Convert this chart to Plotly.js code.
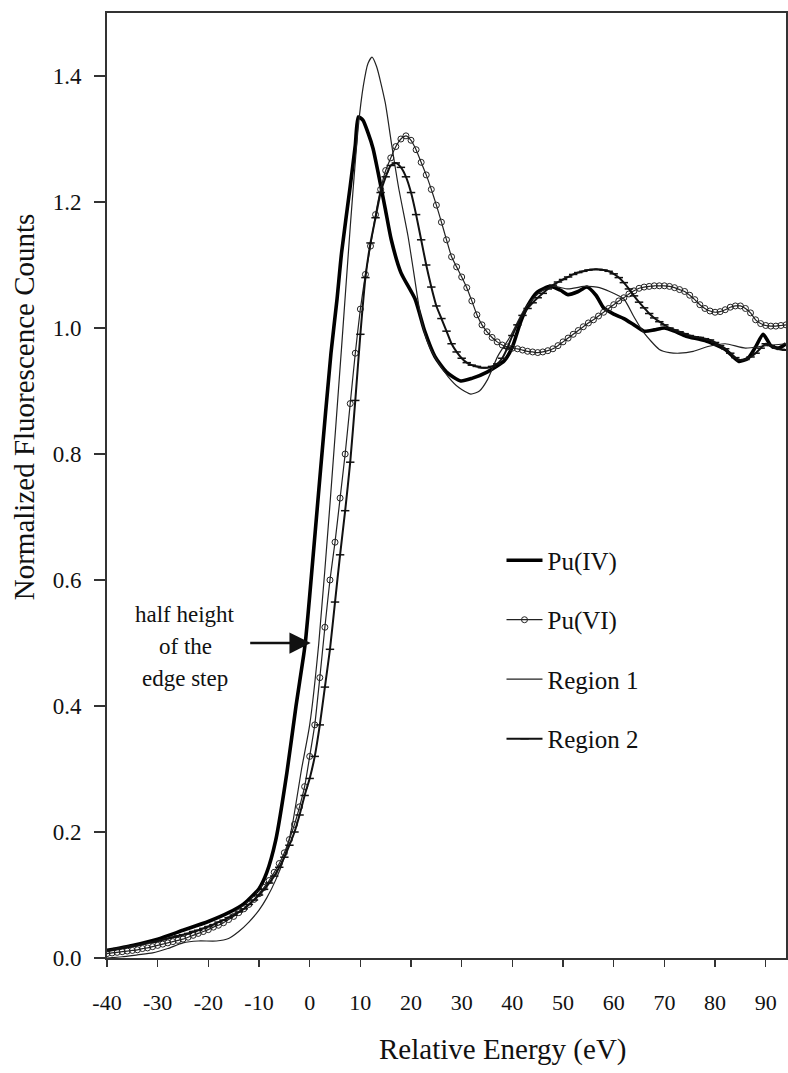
<!DOCTYPE html>
<html>
<head>
<meta charset="utf-8">
<script src="https://cdn.plot.ly/plotly-3.0.1.min.js"></script>
<style>html,body{margin:0;padding:0;background:#fff;}#chart{width:788px;height:1073px;}</style>
</head>
<body>
<div id="chart"></div>
<script>
// ---- data ----
const puIV_x = [-40,-35,-30,-25,-20,-16,-13,-10,-8.5,-6.7,-4.5,-2.7,-1.2,-0.8,0,2.2,4.2,5.4,6.3,8,9,9.6,10.5,11.5,12.5,13.5,14.9,16.1,18,20.8,22.7,24.7,27,29.8,32,35,38.4,40,41.6,43,44.9,47.5,49.5,51,53,54.7,56.5,58,60,62,64,66,68,70,72,74.3,78,82,84.7,86.5,88,89.5,91,92.5,94];
const puIV_y = [0.012,0.02,0.03,0.044,0.058,0.072,0.086,0.11,0.135,0.187,0.294,0.40,0.48,0.505,0.575,0.78,0.96,1.046,1.12,1.225,1.29,1.335,1.33,1.31,1.285,1.247,1.19,1.14,1.088,1.046,0.995,0.955,0.93,0.916,0.92,0.93,0.948,0.97,1.009,1.035,1.057,1.066,1.06,1.053,1.058,1.065,1.052,1.032,1.022,1.015,1.005,0.995,0.997,1.0,0.995,0.987,0.98,0.966,0.947,0.952,0.97,0.99,0.972,0.968,0.975];

const puVI_x = [];
for (let e = -40; e <= 94; e++) puVI_x.push(e);
const puVI_y = [0.007,0.008,0.009,0.010,0.011,0.012,0.013,0.015,0.016,0.018,
  0.020,0.022,0.024,0.026,0.028,0.030,0.033,0.036,0.039,0.042,
  0.045,0.049,0.052,0.056,0.061,0.066,0.072,0.078,0.085,0.093,
  0.102,0.112,0.123,0.136,0.150,0.167,0.188,0.212,0.240,0.272,
  0.32,0.37,0.445,0.525,0.60,0.66,0.73,0.80,0.88,0.96,
  1.03,1.085,1.13,1.18,1.22,1.25,1.27,1.288,1.30,1.305,
  1.298,1.283,1.263,1.243,1.22,1.195,1.168,1.14,1.113,1.097,
  1.081,1.064,1.043,1.021,1.005,0.994,0.985,0.978,0.973,0.970,
  0.968,0.967,0.965,0.963,0.962,0.961,0.962,0.964,0.967,0.972,
  0.978,0.984,0.99,0.996,1.002,1.008,1.013,1.019,1.025,1.031,
  1.037,1.043,1.048,1.054,1.059,1.063,1.065,1.066,1.067,1.067,
  1.067,1.066,1.064,1.061,1.058,1.052,1.045,1.037,1.031,1.027,
  1.025,1.026,1.029,1.033,1.035,1.035,1.031,1.024,1.013,1.007,
  1.004,1.003,1.003,1.004,1.005];

const reg1_x = [-40,-37,-34,-31,-28,-25,-22,-18.4,-16,-14,-12,-10,-8.5,-6.7,-5,-3.5,-1.6,0,1.8,4,6.3,8,9.6,10.6,11.5,12.3,13.2,14.9,16.1,17.5,19.4,20.5,22,23.3,25,27.3,29.5,31.8,33.5,35.1,37.1,39.6,42.4,45.5,48,51,54.1,56.7,59.2,62,63.9,65.9,69,71,73,75.7,78.8,82,86,90,94];
const reg1_y = [0,0.002,0.005,0.008,0.015,0.024,0.027,0.027,0.031,0.042,0.057,0.076,0.095,0.124,0.16,0.208,0.30,0.37,0.5,0.72,0.97,1.16,1.32,1.385,1.42,1.43,1.415,1.358,1.295,1.225,1.146,1.09,1.014,0.977,0.95,0.923,0.905,0.895,0.9,0.918,0.955,0.987,1.03,1.057,1.066,1.062,1.066,1.065,1.058,1.046,1.019,0.993,0.966,0.961,0.96,0.963,0.971,0.975,0.968,0.972,0.975];

const reg2_x = [];
for (let e = -40; e <= 94; e++) reg2_x.push(e);
const reg2_y = [0.012,0.013,0.015,0.016,0.018,0.019,0.020,0.022,0.024,0.025,
  0.027,0.029,0.031,0.033,0.035,0.037,0.039,0.042,0.044,0.047,
  0.050,0.053,0.057,0.060,0.064,0.068,0.073,0.078,0.085,0.092,
  0.100,0.109,0.119,0.130,0.144,0.160,0.179,0.200,0.227,0.258,
  0.285,0.32,0.37,0.43,0.49,0.565,0.64,0.71,0.787,0.885,
  0.99,1.08,1.135,1.175,1.215,1.24,1.258,1.262,1.255,1.24,
  1.215,1.18,1.14,1.10,1.065,1.035,1.015,0.995,0.975,0.962,
  0.952,0.945,0.941,0.939,0.937,0.937,0.939,0.943,0.952,0.968,
  0.988,1.005,1.02,1.031,1.04,1.048,1.055,1.062,1.068,1.073,
  1.077,1.081,1.085,1.088,1.09,1.092,1.093,1.093,1.092,1.09,
  1.086,1.08,1.072,1.062,1.051,1.041,1.032,1.023,1.016,1.01,
  1.005,1.0,0.997,0.994,0.991,0.988,0.986,0.985,0.983,0.981,
  0.977,0.972,0.967,0.96,0.953,0.949,0.95,0.954,0.96,0.968,
  0.975,0.972,0.968,0.966,0.965];

const xTickVals = [-40,-30,-20,-10,0,10,20,30,40,50,60,70,80,90];
const xTickText = ['-40','-30','-20','-10','0','10','20','30','40','50','60','70','80','90'];
const yTickVals = [0,0.2,0.4,0.6,0.8,1.0,1.2,1.4];
const yTickText = ['0.0','0.2','0.4','0.6','0.8','1.0','1.2','1.4'];

const seriesNames = ['Pu(IV)','Pu(VI)','Region 1','Region 2'];
const xTitle = 'Relative Energy (eV)';
const yTitle = 'Normalized Fluorescence Counts';
const noteLines = ['half height','of the','edge step'];

const FONT = '"Liberation Serif", "Times New Roman", serif';

const traces = [
  {x: puIV_x, y: puIV_y, name: seriesNames[0], mode: 'lines', line: {color: '#000', width: 3.6, shape: 'spline', smoothing: 0.6}, legendgroup: 'a'},
  {x: puVI_x, y: puVI_y, name: seriesNames[1], mode: 'lines+markers', line: {color: '#222', width: 1.2, shape: 'spline', smoothing: 0.5},
   marker: {symbol: 'circle-open', size: 6, color: '#222', line: {width: 1, color: '#222'}}, legendgroup: 'b'},
  {x: reg1_x, y: reg1_y, name: seriesNames[2], mode: 'lines', line: {color: '#222', width: 1.2, shape: 'spline', smoothing: 0.6}, legendgroup: 'c'},
  {x: reg2_x, y: reg2_y, name: seriesNames[3], mode: 'lines+markers', line: {color: '#111', width: 2, shape: 'spline', smoothing: 0.5},
   marker: {symbol: 'line-ew-open', size: 6, color: '#111', line: {width: 1.5, color: '#111'}}, legendgroup: 'd'}
];

const layout = {
  width: 788, height: 1073,
  margin: {l: 107, r: 2, t: 13, b: 115},
  paper_bgcolor: '#fff', plot_bgcolor: '#fff',
  font: {family: FONT, color: '#111', size: 22},
  showlegend: true,
  legend: {x: 0.581, y: 0.445, xanchor: 'left', yanchor: 'top', bgcolor: 'rgba(0,0,0,0)',
    font: {family: FONT, size: 25, color: '#111'}, traceorder: 'grouped', tracegroupgap: 24, itemwidth: 36},
  xaxis: {range: [-40, 94], tickvals: xTickVals, ticktext: xTickText, ticks: 'outside', ticklen: 7, tickwidth: 1.5, tickcolor: '#333',
    showline: true, linewidth: 2, linecolor: '#333', mirror: true, showgrid: false, zeroline: false,
    tickfont: {family: FONT, size: 22, color: '#111'}, ticklabelstandoff: 17},
  yaxis: {range: [0, 1.5], tickvals: yTickVals, ticktext: yTickText, ticks: 'outside', ticklen: 11, tickwidth: 1.5, tickcolor: '#333',
    showline: true, linewidth: 2, linecolor: '#333', mirror: true, showgrid: false, zeroline: false,
    tickfont: {family: FONT, size: 23, color: '#111'}, ticklabelstandoff: 8},
  annotations: [
    {x: 0.582, y: -0.097, xref: 'paper', yref: 'paper', text: xTitle, showarrow: false, xanchor: 'center', yanchor: 'middle',
     font: {family: FONT, size: 29, color: '#111'}},
    {x: -0.122, y: 0.583, xref: 'paper', yref: 'paper', text: yTitle, showarrow: false, textangle: -90, xanchor: 'center', yanchor: 'middle',
     font: {family: FONT, size: 29, color: '#111'}},
    {x: 0.2, y: 0.5, xref: 'x', yref: 'y', text: '', showarrow: true, arrowhead: 2, arrowsize: 1.7, arrowwidth: 2.5, arrowcolor: '#111', ax: -62, ay: 0, standoff: 0},
    {x: -24.6, y: 0.545, xref: 'x', yref: 'y', text: noteLines[0], showarrow: false, font: {family: FONT, size: 23, color: '#111'}},
    {x: -24.6, y: 0.494, xref: 'x', yref: 'y', text: noteLines[1], showarrow: false, font: {family: FONT, size: 23, color: '#111'}},
    {x: -24.6, y: 0.443, xref: 'x', yref: 'y', text: noteLines[2], showarrow: false, font: {family: FONT, size: 23, color: '#111'}}
  ]
};

Plotly.newPlot('chart', traces, layout, {displayModeBar: false, staticPlot: true});
</script>
</body>
</html>
